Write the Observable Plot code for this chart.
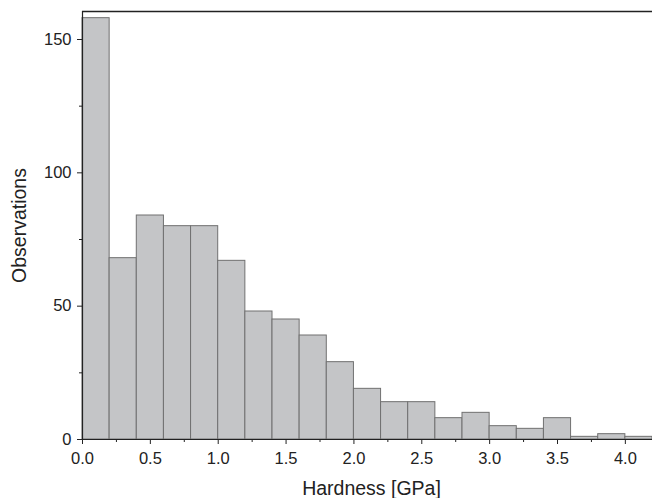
<!DOCTYPE html>
<html>
<head>
<meta charset="utf-8">
<script src="https://cdn.jsdelivr.net/npm/d3@7"></script>
<script src="https://cdn.jsdelivr.net/npm/@observablehq/plot@0.6"></script>
<style>
  html, body { margin: 0; padding: 0; background: #fff; }
  #chart svg { display: block; }
</style>
</head>
<body>
<div id="chart"></div>
<script>
// Bin edges (GPa) and observation counts
const binStart = [0.0, 0.2, 0.4, 0.6, 0.8, 1.0, 1.2, 1.4, 1.6, 1.8, 2.0, 2.2, 2.4, 2.6, 2.8, 3.0, 3.2, 3.4, 3.6, 3.8, 4.0];
const binWidth = 0.2;
const counts   = [158, 68, 84, 80, 80, 67, 48, 45, 39, 29, 19, 14, 14, 8, 10, 5, 4, 8, 1, 2, 1];

const xTicks = [0.0, 0.5, 1.0, 1.5, 2.0, 2.5, 3.0, 3.5, 4.0];
const xTickLabels = ["0.0", "0.5", "1.0", "1.5", "2.0", "2.5", "3.0", "3.5", "4.0"];
const xMinorTicks = [0.25, 0.75, 1.25, 1.75, 2.25, 2.75, 3.25, 3.75];
const yTicks = [0, 50, 100, 150];
const yTickLabels = ["0", "50", "100", "150"];
const yMinorTicks = [25, 75, 125];

const xTitle = "Hardness [GPa]";
const yTitle = "Observations";

const bins = binStart.map((b, i) => ({x1: b, x2: b + binWidth, count: counts[i]}));
const xLab = xTicks.map((v, i) => ({v, label: xTickLabels[i]}));
const yLab = yTicks.map((v, i) => ({v, label: yTickLabels[i]}));

const xDomain = [0, 4.2];
const yDomain = [0, 160.5];
const font = "'Liberation Sans', Arial, sans-serif";

const chart = Plot.plot({
  width: 652,
  height: 498,
  marginLeft: 82,
  marginRight: 0,
  marginTop: 11,
  marginBottom: 59,
  style: {fontFamily: font, color: "#222", background: "#fff"},
  x: {domain: xDomain, label: null},
  y: {domain: yDomain, label: null},
  marks: [
    Plot.rectY(bins, {x1: "x1", x2: "x2", y: "count", fill: "#c4c5c7", stroke: "#707070", strokeWidth: 1, inset: 0}),
    Plot.axisX({ticks: xTicks, tickSize: 5, tickFormat: () => "", stroke: "#222", label: null}),
    Plot.axisX({ticks: xMinorTicks, tickSize: 3, tickFormat: () => "", stroke: "#222", label: null}),
    Plot.axisY({ticks: yTicks, tickSize: 5, tickFormat: () => "", stroke: "#222", label: null}),
    Plot.axisY({ticks: yMinorTicks, tickSize: 3, tickFormat: () => "", stroke: "#222", label: null}),
    Plot.text(xLab, {x: "v", y: () => 0, text: "label", lineAnchor: "top", dy: 12.5, fontSize: 16.5, fill: "#222"}),
    Plot.text(yLab, {y: "v", x: () => 0, text: "label", textAnchor: "end", dx: -11, fontSize: 16.5, fill: "#222"}),
    Plot.ruleY([0], {stroke: "#222", strokeWidth: 1.2}),
    Plot.ruleX([0], {stroke: "#222", strokeWidth: 1.2}),
    Plot.ruleY([yDomain[1]], {stroke: "#222", strokeWidth: 1.4}),
    Plot.text([xTitle], {frameAnchor: "bottom", dx: 4, dy: 55, text: d => d, fontSize: 19.5, fill: "#222", lineAnchor: "bottom"}),
    Plot.text([yTitle], {frameAnchor: "left", dx: -63, rotate: -90, textAnchor: "middle", text: d => d, fontSize: 19.5, fill: "#222"})
  ]
});
document.getElementById("chart").appendChild(chart);
</script>
</body>
</html>
